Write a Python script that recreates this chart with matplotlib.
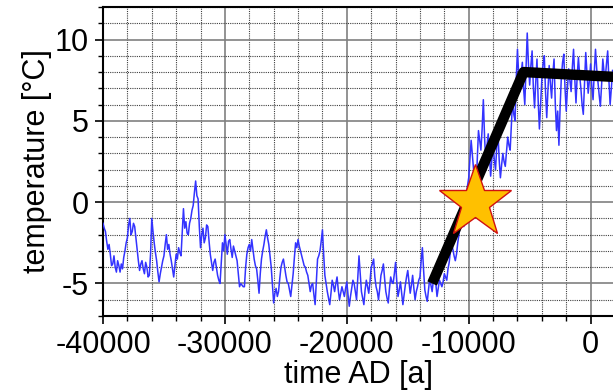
import numpy as np
import matplotlib
matplotlib.use("Agg")
from matplotlib import pyplot as plt
from matplotlib.ticker import MultipleLocator

plt.rcParams['font.family'] = ['Liberation Sans', 'DejaVu Sans']
plt.rcParams['axes.unicode_minus'] = False

# temperature record, one value every 100 years from -40000
T_START = -40000
T_STEP = 100
temperature = [
    -1.3, -1.6, -1.8, -2.4, -2.9, -2.6, -3.2, -3.9, -3.8, -3.3,
    -4.0, -4.3, -3.6, -3.9, -4.3, -3.8, -4.1, -3.4, -3.0, -2.5,
    -2.2, -1.4, -1.0, -2.0, -1.8, -1.3, -1.5, -2.2, -2.9, -3.6,
    -4.2, -3.8, -3.6, -4.1, -4.4, -3.7, -4.0, -4.6, -4.5, -3.2,
    -1.0, -1.8, -2.5, -3.1, -3.6, -4.3, -4.9, -4.4, -4.0, -3.6,
    -3.3, -2.6, -2.0, -2.9, -2.6, -3.2, -3.6, -4.1, -4.6, -3.9,
    -3.2, -3.5, -2.8, -3.1, -3.3, -1.8, -0.4, -1.6, -1.2, -1.9,
    -2.0, -1.3, -1.0, -0.5, -0.2, 0.6, 1.3, 0.4, 0.2, -1.5,
    -2.8, -2.0, -1.6, -2.5, -2.2, -1.4, -1.5, -2.4, -3.2, -3.7,
    -4.2, -3.7, -3.5, -4.0, -4.5, -4.8, -5.0, -3.8, -2.5, -3.0,
    -2.0, -2.6, -3.2, -2.4, -2.3, -2.9, -3.4, -2.7, -3.0, -3.3,
    -3.6, -4.4, -5.2, -5.0, -5.1, -5.2, -5.2, -4.0, -3.2, -2.8,
    -2.6, -3.0, -2.3, -2.9, -3.5, -3.9, -4.1, -4.8, -5.6, -4.4,
    -3.5, -3.0, -2.6, -2.1, -1.7, -2.2, -2.6, -3.3, -4.0, -5.1,
    -6.2, -5.6, -5.3, -5.8, -5.5, -4.7, -4.0, -3.7, -3.5, -4.0,
    -4.5, -4.9, -5.0, -5.4, -5.8, -5.1, -4.4, -3.4, -2.5, -2.8,
    -2.3, -2.7, -3.0, -3.3, -3.6, -3.9, -4.0, -4.3, -4.5, -5.0,
    -5.5, -5.1, -5.0, -5.7, -6.3, -4.9, -3.5, -3.3, -3.0, -2.4,
    -1.7, -3.2, -4.5, -5.0, -5.5, -5.9, -6.3, -5.6, -4.8, -5.1,
    -5.5, -5.0, -4.6, -5.4, -6.0, -5.6, -5.2, -5.5, -5.8, -5.3,
    -4.9, -5.7, -6.4, -5.8, -5.3, -4.8, -5.0, -5.5, -6.0, -4.6,
    -3.3, -4.4, -5.5, -5.9, -6.3, -5.4, -4.8, -5.2, -5.6, -4.9,
    -4.0, -3.8, -3.5, -4.6, -5.2, -5.5, -6.0, -5.3, -4.5, -4.2,
    -3.8, -4.7, -5.5, -5.9, -6.2, -5.3, -4.6, -4.9, -5.0, -4.4,
    -3.7, -4.9, -5.8, -5.4, -4.9, -5.6, -6.3, -5.7, -5.1, -4.6,
    -4.2, -4.9, -5.6, -5.1, -4.5, -5.3, -6.0, -5.5, -5.2, -4.8,
    -4.6, -3.6, -2.8, -4.2, -5.4, -5.8, -6.1, -5.4, -4.7, -5.1,
    -5.5, -4.8, -4.3, -5.0, -5.8, -5.3, -4.8, -5.0, -5.2, -4.9,
    -4.4, -4.6, -4.8, -4.1, -3.7, -3.0, -2.6, -2.9, -3.3, -3.6,
    -3.2, -2.5, -2.0, -1.3, -0.8, -1.2, -1.5, -0.4, 0.5, 1.0,
    1.5, 2.7, 3.8, 2.9, 2.0, 1.2, 0.8, 2.6, 4.4, 3.8,
    3.2, 4.5, 6.3, 4.0, 2.5, 3.5, 4.2, 2.8, 1.6, 2.7,
    3.5, 2.6, 2.0, 3.4, 4.3, 2.6, 1.5, 2.3, 3.0, 2.5,
    2.2, 3.1, 4.0, 3.5, 3.2, 4.7, 6.3, 5.4, 5.0, 7.6,
    9.4, 7.8, 6.8, 7.9, 8.6, 7.0, 6.0, 8.2, 10.4, 8.5,
    7.2, 8.4, 9.3, 7.1, 5.8, 7.4, 8.8, 6.2, 4.5, 6.0,
    7.6, 8.5, 9.0, 6.8, 5.2, 6.9, 8.4, 7.3, 6.4, 7.9,
    8.8, 6.1, 4.4, 5.6, 3.5, 5.9, 7.7, 8.6, 9.1, 7.0,
    5.6, 7.0, 8.2, 7.5, 6.8, 8.3, 9.4, 7.6, 6.1, 7.8,
    8.9, 7.8, 7.0, 6.0, 5.4, 7.3, 9.2, 7.9, 6.7, 7.5,
    8.5, 7.1, 6.3, 8.0, 9.4, 8.2, 7.4, 6.6, 5.9, 7.2,
    8.8, 8.0, 7.6, 8.5, 9.3, 7.5, 6.0, 7.0, 8.1,
]
time_ad = T_START + T_STEP * np.arange(len(temperature))

# simplified trend (thick black line)
trend_t = [-13000, -5500, 2000]
trend_v = [-5.0, 8.0, 7.7]

# star marker
star_t = [-9500]
star_v = [0.0]

fig = plt.figure(figsize=(6.13, 3.9), dpi=100)
ax = fig.add_axes([103 / 613, 74 / 390, 512 / 613, 309 / 390])

ax.plot(time_ad, temperature, color='#3333ff', lw=1.1, zorder=3)
ax.plot(trend_t, trend_v, color='black', lw=7.5, solid_capstyle='butt', zorder=4)
ax.plot(star_t, star_v, marker='*', markersize=55, markerfacecolor='#ffc000',
        markeredgecolor='#d01010', markeredgewidth=1.0, ls='none', zorder=5)

ax.set_xlim(-40000, 2000)
ax.set_ylim(-7, 12)
ax.xaxis.set_major_locator(MultipleLocator(10000))
ax.xaxis.set_minor_locator(MultipleLocator(2000))
ax.yaxis.set_major_locator(MultipleLocator(5))
ax.yaxis.set_minor_locator(MultipleLocator(1))

ax.grid(True, which='major', color='#808080', ls='-', lw=1.2, zorder=1)
ax.grid(True, which='minor', color='#404040', ls=(0, (1, 1)), lw=0.8, zorder=1)
ax.set_axisbelow(True)

for side in ['left', 'top', 'bottom']:
    ax.spines[side].set_linewidth(1.5)
ax.spines['right'].set_visible(False)

ax.tick_params(which='major', direction='out', length=6, width=1.2, labelsize=22, pad=4)
ax.tick_params(which='minor', direction='out', length=3.5, width=1.0)
ax.tick_params(axis='both', which='both', top=False, right=False)

ax.set_xlabel('time AD [a]', fontsize=22, labelpad=0)
ax.set_ylabel('temperature [°C]', fontsize=22, labelpad=2)

fig.savefig('out.png', dpi=100)
